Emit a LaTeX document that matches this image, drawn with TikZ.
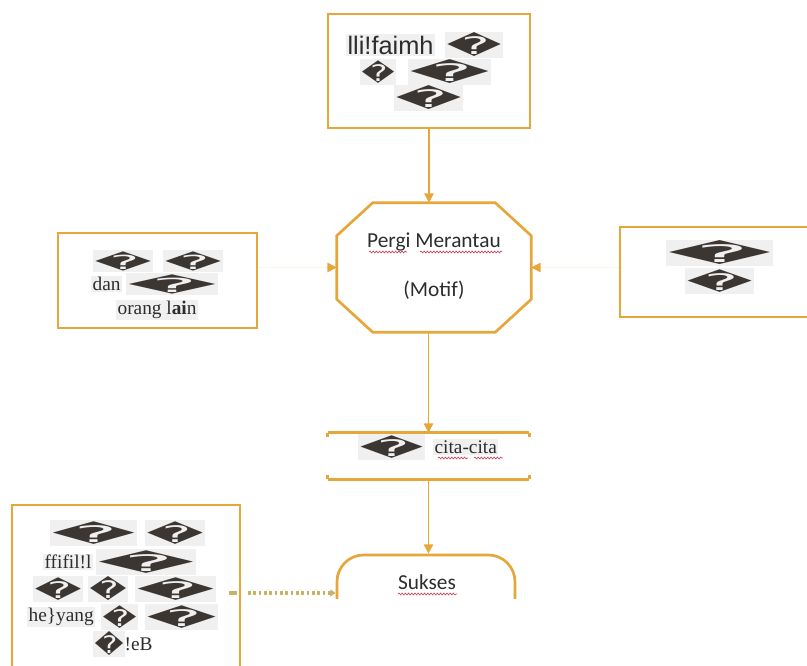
\documentclass[tikz,border=0pt]{standalone}
\usepackage{fontspec}
\usepackage{graphicx}
\usetikzlibrary{arrows.meta,decorations.pathmorphing}
\setmainfont{Liberation Serif}
\newfontfamily\arialf{Liberation Sans}
\newfontfamily\calf{Carlito}
\newfontfamily\djv{DejaVu Sans}
\definecolor{oc}{RGB}{231,166,58}
\definecolor{qdc}{RGB}{60,54,50}
\definecolor{hlc}{RGB}{240,240,240}
\definecolor{dotc}{RGB}{200,178,100}
\definecolor{wavc}{RGB}{196,70,90}
\definecolor{tc}{RGB}{45,45,45}
\newcommand\qd[2][18]{\resizebox*{\dimexpr #2pt*3/4\relax}{#1pt}{\djv\textcolor{qdc}{\symbol{"FFFD}}}}
\newcommand\srf{\fontsize{14.5}{17}\selectfont}
\begin{document}
\begin{tikzpicture}[x=0.75pt,y=-0.75pt,
  box/.style={draw=oc,line width=2pt,inner sep=0pt},
  conn/.style={draw=oc,line width=1.4pt,-{Triangle[length=7pt,width=7pt,color=oc]}},
  fconn/.style={draw=oc!12,line width=1.2pt,-{Triangle[length=7pt,width=7pt,color=oc]}},
  txt/.style={inner sep=1pt,fill=hlc,text=tc,anchor=west,font=\srf},
  ctxt/.style={inner sep=0pt,text=tc,font=\calf\fontsize{16}{19}\selectfont},
  wave/.style={draw=wavc,line width=0.5pt,decorate,decoration={snake,segment length=2.4pt,amplitude=0.7pt}},
  dotl/.style={draw=dotc,line width=2.6pt,dash pattern=on 2pt off 2pt,-{Triangle[length=4pt,width=5pt]}}]
\useasboundingbox (0,0) rectangle (807,666);
\clip (0,0) rectangle (807,666);

% boxes
\node[box,minimum width=151.5pt,minimum height=85.5pt] (top) at (429,71) {};
\node[box,minimum width=149.25pt,minimum height=71.25pt] (left) at (157.5,280.5) {};
\node[box,minimum width=147pt,minimum height=67.5pt] (right) at (718,272) {};
\node[inner sep=0pt,minimum width=145.5pt,minimum height=96.75pt] (oct) at (434,267.5) {};
\draw[box] ([xshift=27pt]oct.north west) -- ([xshift=-27pt]oct.north east)
  -- ([yshift=-24.75pt]oct.north east) -- ([yshift=24.75pt]oct.south east)
  -- ([xshift=-27pt]oct.south east) -- ([xshift=27pt]oct.south west)
  -- ([yshift=24.75pt]oct.south west) -- ([yshift=-24.75pt]oct.north west) -- cycle;
\node[inner sep=0pt,minimum width=150.75pt,minimum height=34.5pt] (cita) at (428.5,456) {};
\draw[box] (cita.north west) -- (cita.north east);
\draw[box] (cita.south west) -- (cita.south east);
\draw[box] (cita.north west) -- ++(0,-3pt);
\draw[box] (cita.north east) -- ++(0,-3pt);
\draw[box] (cita.south west) -- ++(0,3pt);
\draw[box] (cita.south east) -- ++(0,3pt);
\begin{scope}
\clip (300,540) rectangle (560,598);
\node[box,rounded corners=20pt,minimum width=133.5pt,minimum height=57pt] (suk) at (426,593) {};
\end{scope}
\node[box,minimum width=171pt,minimum height=145.5pt] (bl) at (126,602) {};

% top box text
\node[txt,font=\arialf\fontsize{19}{22}\selectfont] (t1) at (346,45) {lli!faimh};
\node[txt] (t2) at (445,45) {\qd{55}};
\node[txt] (t3) at (360,72) {\qd[17]{33}};
\node[txt] (t4) at (408,72) {\qd{80}};
\node[txt] (t5) at (394,98) {\qd{66}};

% octagon text
\node[ctxt] (p1) at (434,242) {Pergi Merantau};
\node[ctxt] (p2) at (434,290) {(Motif)};
\draw[wave] (369,252) -- (407,252);
\draw[wave] (420,252) -- (502,252);

% left box text
\node[txt] (l1) at (93,261) {\qd[14.5]{57}};
\node[txt] (l2) at (163,261) {\qd[14.5]{57}};
\node[txt] (l3) at (91,284) {dan};
\node[txt] (l4) at (126,284) {\qd[14.5]{89}};
\node[txt] (l5) at (116,310) {orang l\textbf{ai}n};

% right box text
\node[txt] (r1) at (666,253) {\qd{104}};
\node[txt] (r2) at (685,281) {\qd[17]{66}};

% cita-cita text
\node[txt] (c1) at (358,447) {\qd[17]{64}};
\node[txt] (c2) at (433,447) {cita-cita};
\draw[wave] (438,458) -- (468,458);
\draw[wave] (474,458) -- (503,458);

% sukses text
\node[ctxt] (s1) at (427,582) {Sukses};
\draw[wave] (398,594) -- (457,594);

% bottom-left text
\node[txt] (b1) at (50,533) {\qd[17]{84}};
\node[txt] (b2) at (145,533) {\qd[17]{57}};
\node[txt] (b3) at (43,562) {ffifil!l};
\node[txt] (b4) at (96,562) {\qd[17]{97}};
\node[txt] (b5) at (33,589) {\qd[17]{47}};
\node[txt] (b6) at (88,589) {\qd[18]{37}};
\node[txt] (b7) at (135,589) {\qd[17]{78}};
\node[txt] (b8) at (27,617) {he\}yang};
\node[txt] (b9) at (101,617) {\qd[17]{34}};
\node[txt] (b10) at (145,617) {\qd[17]{70}};
\node[txt] (b11) at (93,644) {\qd[18]{29}};
\node[txt,fill=none] (b12) at (123,644) {!eB};

% connectors
\draw[conn] (top.south) -- (top.south |- oct.north);
\draw[fconn] (left.east |- oct.west) -- (oct.west);
\draw[fconn] (right.west |- oct.east) -- (oct.east);
\draw[conn] (cita.north |- oct.south) -- (cita.north);
\draw[conn] (cita.south) -- (cita.south |- suk.north);
\draw[draw=dotc,line width=2.6pt] ([xshift=-9pt]bl.east |- suk.west) -- ([xshift=-3pt]bl.east |- suk.west);
\draw[dotl] ([xshift=5pt]bl.east |- suk.west) -- (suk.west);
\end{tikzpicture}
\end{document}
